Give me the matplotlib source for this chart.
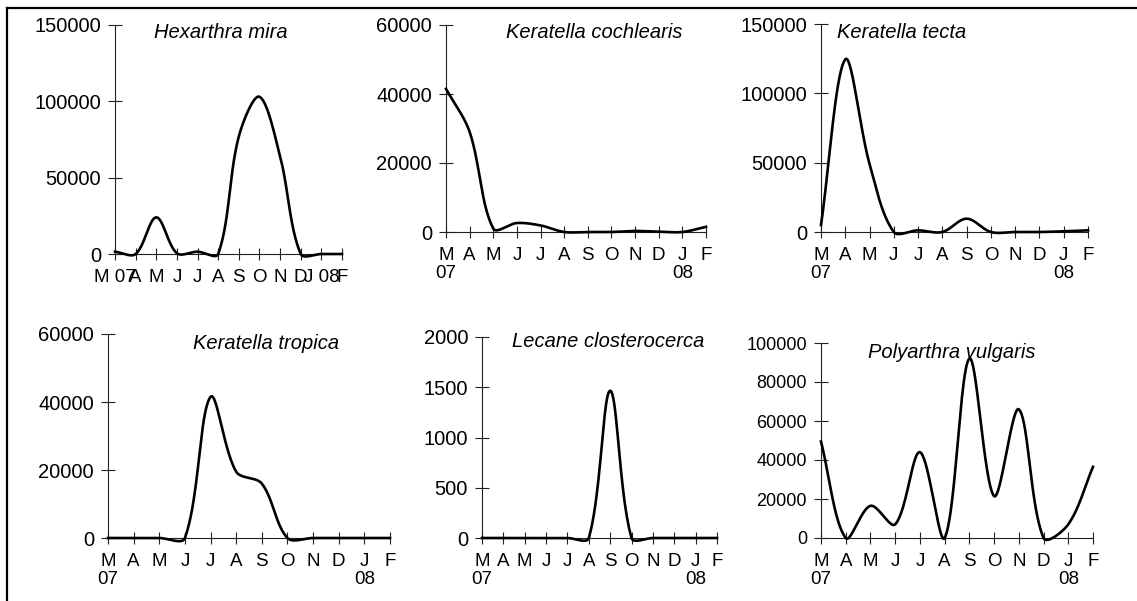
import numpy as np
import matplotlib
matplotlib.use('Agg')
import matplotlib.pyplot as plt
from matplotlib.lines import Line2D

plt.rcParams['font.family'] = ['Liberation Sans', 'DejaVu Sans']

# monthly samples, March 2007 - February 2008
months = ['M', 'A', 'M', 'J', 'J', 'A', 'S', 'O', 'N', 'D', 'J', 'F']

hexarthra = [1500, 0, 24000, 500, 1500, 0, 77000, 103000, 64000, 0, 0, 0]
cochlearis = [41500, 29000, 1000, 2600, 1900, 0, 0, 0, 300, 100, 0, 1500]
tecta = [5000, 124500, 49000, 0, 1200, 0, 9600, 0, 0, 0, 500, 1200]
tropica = [0, 0, 0, 0, 41500, 19500, 16000, 0, 0, 0, 0, 0]
lecane = [0, 0, 0, 0, 0, 0, 1465, 0, 0, 0, 0, 0]
polyarthra = [49500, 0, 16500, 7000, 44000, 0, 92000, 21500, 66000, 0, 7000, 36500]

titles = ['Hexarthra mira', 'Keratella cochlearis', 'Keratella tecta',
          'Keratella tropica', 'Lecane closterocerca', 'Polyarthra vulgaris']
series = [hexarthra, cochlearis, tecta, tropica, lecane, polyarthra]
yticks = [[0, 50000, 100000, 150000],
          [0, 20000, 40000, 60000],
          [0, 50000, 100000, 150000],
          [0, 20000, 40000, 60000],
          [0, 500, 1000, 1500, 2000],
          [0, 20000, 40000, 60000, 80000, 100000]]

W, H = 1137, 601
# pixel boxes: left, right, y of zero line, y of top
boxes = [(115, 342, 254, 25), (446, 706, 232, 25), (821, 1088, 232, 24),
         (108, 390, 538, 334), (482, 717, 538, 337), (821, 1093, 538, 343)]
title_pos = [(154, 33), (506, 33), (837, 33), (193, 343), (512, 341), (868, 352)]
ytick_size = [14.5, 14.5, 14.5, 14.5, 14.5, 13]


def smooth(y, sx, sy, n=40):
  # excel style smoothed line: cubic bezier, handles scaled by
  # neighbouring segment lengths measured on screen (sx, sy px per unit)
  y = np.asarray(y, dtype=float)
  x = np.arange(len(y), dtype=float)
  m = len(y)

  def dist(a, b):
    return np.hypot((x[b] - x[a]) * sx, (y[b] - y[a]) * sy)

  xs, ys = [], []
  t = np.linspace(0, 1, n)
  for i in range(m - 1):
    i0 = max(i - 1, 0)
    i3 = min(i + 2, m - 1)
    d01 = dist(i0, i)
    d12 = dist(i, i + 1)
    d23 = dist(i + 1, i3)
    f1 = d12 / (d01 + d12) / 3 if d01 + d12 > 0 else 0
    f2 = d12 / (d12 + d23) / 3 if d12 + d23 > 0 else 0
    p0x, p0y = x[i], y[i]
    p3x, p3y = x[i + 1], y[i + 1]
    p1x = p0x + (x[i + 1] - x[i0]) * f1
    p1y = p0y + (y[i + 1] - y[i0]) * f1
    p2x = p3x - (x[i3] - x[i]) * f2
    p2y = p3y - (y[i3] - y[i]) * f2
    b0 = (1 - t) ** 3
    b1 = 3 * (1 - t) ** 2 * t
    b2 = 3 * (1 - t) * t ** 2
    b3 = t ** 3
    xs.append(b0 * p0x + b1 * p1x + b2 * p2x + b3 * p3x)
    ys.append(b0 * p0y + b1 * p1y + b2 * p2y + b3 * p3y)
  return np.concatenate(xs), np.concatenate(ys)


fig = plt.figure(figsize=(W / 100, H / 100), dpi=100)

for k in range(6):
  l, r, y0, top = boxes[k]
  ax = fig.add_axes([l / W, 1 - y0 / H, (r - l) / W, (y0 - top) / H])
  sx = (r - l) / (len(months) - 1)
  sy = (y0 - top) / yticks[k][-1]
  xs, ys = smooth(series[k], sx, sy)
  ax.plot(xs, ys, color='black', lw=1.9, clip_on=False, zorder=3)
  ax.set_xlim(0, len(months) - 1)
  ax.set_ylim(0, yticks[k][-1])
  ax.set_yticks(yticks[k])
  ax.set_yticklabels([str(v) for v in yticks[k]], fontsize=ytick_size[k])
  labels = list(months)
  if k == 0:
    labels[0] = 'M 07'
    labels[10] = 'J 08'
  else:
    labels[0] = 'M\n07'
    labels[10] = 'J\n08'
  ax.set_xticks(range(len(months)))
  ax.set_xticklabels(labels, fontsize=13.5, va='top')
  for lab in ax.get_xticklabels():
    lab.set_linespacing(1.05)
  for s in ['top', 'right']:
    ax.spines[s].set_visible(False)
  ax.spines['left'].set_color('#222222')
  ax.spines['bottom'].set_color('#222222')
  ax.spines['left'].set_linewidth(0.8)
  ax.spines['bottom'].set_linewidth(0.8)
  ax.tick_params(axis='y', direction='inout', length=10, width=0.8, pad=5, color='#222222')
  ax.tick_params(axis='x', direction='inout', length=8, width=0.8, pad=7, color='#222222')
  ax.patch.set_alpha(0)
  tx, ty = title_pos[k]
  fig.text(tx / W, 1 - ty / H, titles[k], fontsize=14.5, style='italic',
           ha='left', va='center')

# outer frame (top and left edges visible)
fig.add_artist(Line2D([7 / W, 1], [1 - 8 / H, 1 - 8 / H], color='black', lw=1.6,
                      transform=fig.transFigure))
fig.add_artist(Line2D([7 / W, 7 / W], [0, 1 - 8 / H], color='black', lw=1.6,
                      transform=fig.transFigure))

fig.savefig('out.png', dpi=100)
